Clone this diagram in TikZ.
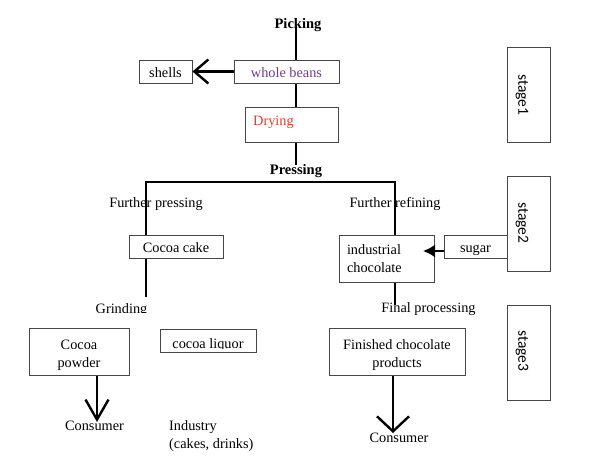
\documentclass[tikz,border=0pt]{standalone}
\usepackage{fontspec}
\setmainfont{Liberation Serif}
\newfontfamily\stagefont{Carlito}
\usetikzlibrary{arrows.meta}
\definecolor{beanpurple}{RGB}{118,58,140}
\definecolor{dryred}{RGB}{222,64,50}
\definecolor{boxgray}{RGB}{70,70,70}
\tikzset{
  box/.style={draw=boxgray, line width=1pt, inner sep=0pt, align=center,
    font=\fontsize{14.3}{18}\selectfont},
  onebox/.style={box, minimum height=23pt, text height=13pt, text depth=1pt},
  twobox/.style={box, minimum height=47pt, text height=32pt, text depth=1pt},
  lbl/.style={inner sep=0pt, align=center, anchor=base, font=\fontsize{14.3}{18}\selectfont},
  blbl/.style={inner sep=0pt, anchor=base, font=\fontsize{14.5}{18}\selectfont\bfseries},
  stagebox/.style={draw=boxgray, line width=1pt, minimum width=43pt, minimum height=95pt, inner sep=0pt},
  stagetxt/.style={rotate=-90, inner sep=0pt, font=\stagefont\fontsize{15.5}{18}\selectfont},
  conn/.style={line width=2.4pt, black},
}
\begin{document}
\begin{tikzpicture}[x=1pt,y=-1pt]
\useasboundingbox[fill=white] (0,0) rectangle (600,469);

% stage boxes
\node[stagebox] (s1) at (528.5,94.5) {};
\node[stagetxt] (s1t) at (522,95) {stage1};
\node[stagebox] (s2) at (528.5,223.5) {};
\node[stagetxt] (s2t) at (522,223) {stage2};
\node[stagebox] (s3) at (528.5,352.5) {};
\node[stagetxt] (s3t) at (522,351) {stage3};

% text labels
\node[blbl] (picking) at (298,28.5) {Picking};
\node[blbl] (pressing) at (296,174.5) {Pressing};
\node[lbl] (fpress) at (156,207.5) {Further pressing};
\node[lbl] (frefine) at (395,207.5) {Further refining};
\begin{scope}
  \clip (80,290) rectangle (170,312.5);
  \node[lbl] (grind) at (121.5,313) {Grinding};
\end{scope}
\node[lbl] (final) at (428.5,312) {Final processing};
\node[lbl] (cons1) at (94.5,430) {Consumer};
\node[lbl, align=left, anchor=base west] (industry) at (169,448.5) {Industry\\(cakes, drinks)};
\node[lbl] (cons2) at (399,442) {Consumer};

% boxes
\node[onebox, minimum width=105pt, text=beanpurple] (beans) at (286.5,71.5) {whole beans};
\node[onebox, minimum width=53pt] (shells) at (165.5,71.5) {shells};
\node[box, minimum width=93pt, minimum height=35pt] (drying) at (291.5,124.5) {};
\node[lbl, anchor=base west, text=dryred] (dryingt) at (253,125) {Drying};
\node[onebox, minimum width=94pt] (cake) at (176,246.5) {Cocoa cake};
\node[box, minimum width=95pt, minimum height=47pt, align=left, text width=79pt, inner xsep=8pt] (ind) at (386.5,259) {industrial\\chocolate};
\node[onebox, minimum width=63pt] (sugar) at (475.5,246.5) {sugar};
\node[twobox, minimum width=100pt] (powder) at (79,351.5) {Cocoa\\powder};
\node[box, minimum width=96pt, minimum height=23pt] (liquor) at (208,340.5) {};
\begin{scope}
  \clip (165,330) rectangle (250,348.6);
  \node[lbl] (liquort) at (208,348.5) {cocoa liquor};
\end{scope}
\node[twobox, minimum width=136pt] (finished) at (397,351.5) {Finished chocolate\\products};

% helper coordinates
\coordinate (ptop) at (296,25);
\coordinate (pbot) at (296,165);
\coordinate (lsplit) at (146,182);
\coordinate (rsplit) at (395,182);
\coordinate (grindend) at (146,297);
\coordinate (finalend) at (395,305);
\coordinate (sugartip) at (423,251);
\coordinate (c1tip) at (97,422);
\coordinate (c2tip) at (393,433);

% connectors
\draw[conn] (ptop) -- (ptop |- beans.north);
\draw[conn, -{Straight Barb[length=14pt,width=24pt]}] (beans.west) -- (shells.east);
\draw[conn] (ptop |- beans.south) -- (ptop |- drying.north);
\draw[conn] (ptop |- drying.south) -- (pbot);
\draw[conn] (lsplit |- cake.north) -- (lsplit) -- (rsplit) -- (rsplit |- ind.north);
\draw[conn] (lsplit |- cake.south) -- (grindend);
\draw[conn] (rsplit |- ind.south) -- (finalend);
\draw[line width=2pt, -{Latex[length=12pt,width=13pt]}] (sugar.west |- sugartip) -- (sugartip);
\draw[conn, -{Straight Barb[length=20pt,width=23pt]}] (c1tip |- powder.south) -- (c1tip);
\draw[conn, -{Straight Barb[length=15pt,width=32pt]}] (c2tip |- finished.south) -- (c2tip);
\end{tikzpicture}
\end{document}
